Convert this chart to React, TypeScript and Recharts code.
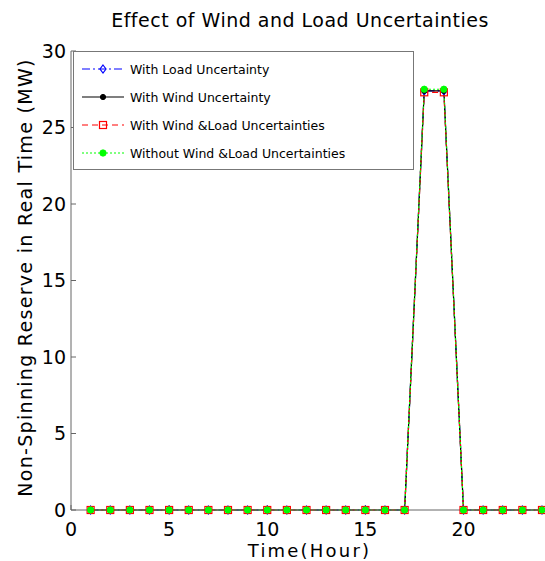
import React from 'react';
import { LineChart, Line, XAxis, YAxis, Legend } from 'recharts';

const hours = [1, 2, 3, 4, 5, 6, 7, 8, 9, 10, 11, 12, 13, 14, 15, 16, 17, 18, 19, 20, 21, 22, 23, 24];
const loadUnc = [0, 0, 0, 0, 0, 0, 0, 0, 0, 0, 0, 0, 0, 0, 0, 0, 0, 27.4, 27.4, 0, 0, 0, 0, 0];
const windUnc = [0, 0, 0, 0, 0, 0, 0, 0, 0, 0, 0, 0, 0, 0, 0, 0, 0, 27.4, 27.4, 0, 0, 0, 0, 0];
const bothUnc = [0, 0, 0, 0, 0, 0, 0, 0, 0, 0, 0, 0, 0, 0, 0, 0, 0, 27.3, 27.3, 0, 0, 0, 0, 0];
const noUnc = [0, 0, 0, 0, 0, 0, 0, 0, 0, 0, 0, 0, 0, 0, 0, 0, 0, 27.5, 27.5, 0, 0, 0, 0, 0];
const xTicks = [0, 5, 10, 15, 20];
const yTicks = [0, 5, 10, 15, 20, 25, 30];

const data = hours.map((h, i) => ({ h, load: loadUnc[i], wind: windUnc[i], both: bothUnc[i], none: noUnc[i] }));

const FONT = '"DejaVu Sans", Verdana, sans-serif';
const AXIS = '#666';

const series = [
  { key: 'load', name: 'With Load Uncertainty', color: '#0000ff', dash: '8 3 2 3', marker: 'diamond' },
  { key: 'wind', name: 'With Wind Uncertainty', color: '#000000', dash: undefined, marker: 'filled' },
  { key: 'both', name: 'With Wind &Load Uncertainties', color: '#ff0000', dash: '6 4', marker: 'square' },
  { key: 'none', name: 'Without Wind &Load Uncertainties', color: '#00ff00', dash: '2 2', marker: 'hex' },
];

function Marker({ type, color, cx, cy }: { type: string; color: string; cx: number; cy: number }) {
  if (type === 'diamond') {
    return <path d={`M${cx},${cy - 4} L${cx + 3},${cy} L${cx},${cy + 4} L${cx - 3},${cy} Z`} fill="none" stroke={color} strokeWidth={1.2} />;
  }
  if (type === 'filled') {
    return <circle cx={cx} cy={cy} r={2.6} fill={color} stroke={color} />;
  }
  if (type === 'square') {
    return <rect x={cx - 3.5} y={cy - 3.5} width={7} height={7} fill="none" stroke={color} strokeWidth={1.2} />;
  }
  return <circle cx={cx} cy={cy} r={3.2} fill={color} stroke={color} strokeWidth={0.8} />;
}

const makeDot = (type: string, color: string) => (props: any) => {
  const { cx, cy, index } = props;
  if (cx == null || cy == null) return <g key={index} />;
  return <g key={index}><Marker type={type} color={color} cx={cx} cy={cy} /></g>;
};

const LegendBox = () => (
  <div
    style={{
      width: 341,
      height: 119,
      border: '1px solid #777',
      background: '#fff',
      fontFamily: FONT,
      fontSize: 12.5,
      color: '#000',
      boxSizing: 'border-box',
      paddingTop: 3,
    }}
  >
    {series.map((s) => (
      <div key={s.key} style={{ display: 'flex', alignItems: 'center', height: 28 }}>
        <svg width={56} height={14}>
          <line x1={8} y1={7} x2={50} y2={7} stroke={s.color} strokeWidth={1.2} strokeDasharray={s.dash} />
          <Marker type={s.marker} color={s.color} cx={29} cy={7} />
        </svg>
        <span>{s.name}</span>
      </div>
    ))}
  </div>
);

export default function App() {
  return (
    <div style={{ position: 'absolute', left: 0, top: 0, width: 545, height: 561, background: '#fff' }}>
      <div
        style={{
          position: 'absolute',
          left: 60,
          width: 480,
          top: 4,
          lineHeight: '32px',
          textAlign: 'center',
          fontFamily: FONT,
          fontSize: 19,
          letterSpacing: 0.5,
          color: '#000',
        }}
      >
        Effect of Wind and Load Uncertainties
      </div>
      <LineChart width={545} height={561} data={data} margin={{ top: 51, right: 3, bottom: 0, left: 0 }}>
        <XAxis
          dataKey="h"
          type="number"
          domain={[0, 24]}
          ticks={xTicks}
          interval={0}
          height={51}
          stroke={AXIS}
          tickSize={-5}
          tickMargin={12}
          tick={{ fontSize: 19, fill: '#000', fontFamily: FONT, dy: 6 }}
          label={{
            content: (p: any) => {
              const vb = p.viewBox || {};
              const cx = vb.x + vb.width / 2 + 3;
              return (
                <text x={cx} y={557} textAnchor="middle" fontSize={18} letterSpacing={2.2} fontFamily={FONT} fill="#000">
                  Time(Hour)
                </text>
              );
            },
          }}
        />
        <XAxis
          xAxisId="top"
          orientation="top"
          dataKey="h"
          type="number"
          domain={[0, 24]}
          ticks={xTicks}
          height={0}
          stroke={AXIS}
          tickSize={-5}
          tick={() => <g />}
        />
        <YAxis
          type="number"
          domain={[0, 30]}
          ticks={yTicks}
          interval={0}
          width={71}
          stroke={AXIS}
          tickSize={-5}
          tickMargin={10}
          tick={{ fontSize: 19, fill: '#000', fontFamily: FONT }}
          label={{
            content: (p: any) => {
              const vb = p.viewBox || {};
              const cy = vb.y + vb.height / 2 - 3;
              return (
                <text x={25} y={cy} transform={`rotate(-90, 25, ${cy})`} textAnchor="middle" dominantBaseline="central" fontSize={19} letterSpacing={1.3} fontFamily={FONT} fill="#000">
                  Non-Spinning Reserve in Real Time (MW)
                </text>
              );
            },
          }}
        />
        <YAxis
          yAxisId="right"
          orientation="right"
          type="number"
          domain={[0, 30]}
          ticks={yTicks}
          width={0}
          stroke={AXIS}
          tickSize={-5}
          tick={() => <g />}
        />
        <Legend
          layout="vertical"
          align="center"
          verticalAlign="middle"
          wrapperStyle={{ left: 73, top: 51, width: 341, height: 119 }}
          content={() => <LegendBox />}
        />
        {series.map((s) => (
          <Line
            key={s.key}
            dataKey={s.key}
            name={s.name}
            type="linear"
            stroke={s.color}
            strokeWidth={1.2}
            strokeDasharray={s.dash}
            dot={makeDot(s.marker, s.color)}
            activeDot={false}
            isAnimationActive={false}
          />
        ))}
      </LineChart>
    </div>
  );
}
